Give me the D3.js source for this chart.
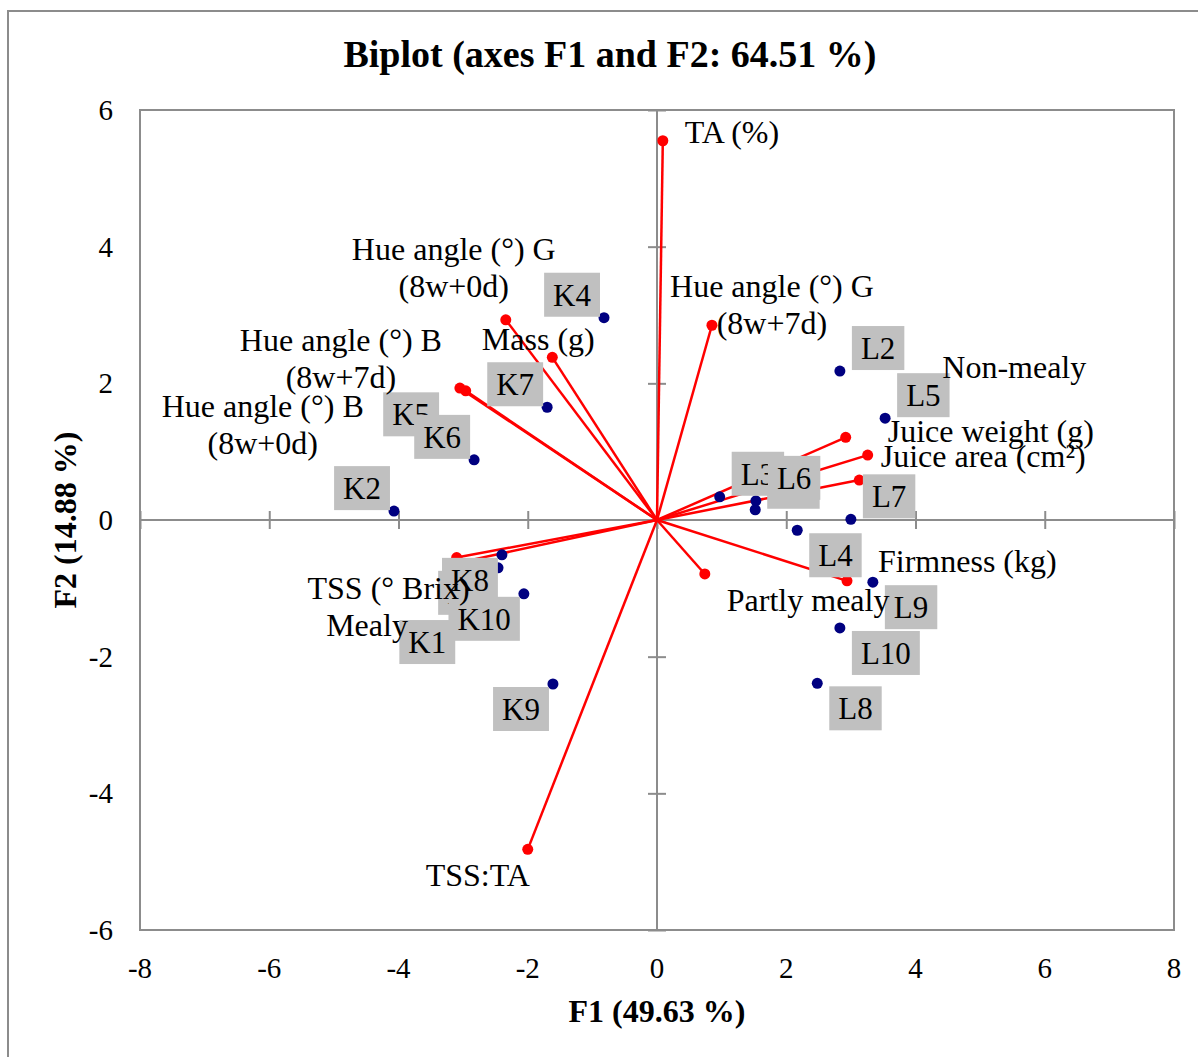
<!DOCTYPE html>
<html>
<head>
<meta charset="utf-8">
<script src="https://cdn.jsdelivr.net/npm/d3@7"></script>
<style>
  body { margin: 0; background: #fff; }
  text { font-family: "Liberation Serif", "Times New Roman", serif; }
</style>
</head>
<body>
<div id="viz"></div>
<script>
// observations (F1, F2)
var obsNames = ["K1","K2","K3","K4","K5","K6","K7","K8","K9","K10",
                "L1","L2","L3","L4","L5","L6","L7","L8","L9","L10"];
var obsF1 = [-3.06,-4.07,-2.46,-0.82,-3.31,-2.83,-1.70,-2.40,-1.61,-2.06,
             1.52, 2.83, 0.97, 2.17, 3.53, 1.53, 3.00, 2.48, 3.34, 2.83];
var obsF2 = [-1.42, 0.13,-0.70, 2.96, 1.21, 0.88, 1.65,-0.51,-2.40,-1.08,
             0.15, 2.18, 0.34,-0.15, 1.49, 0.28, 0.01,-2.39,-0.91,-1.58];

// variables (loadings, scaled)
var varNames = ["TA (%)", "Hue angle (°) G|(8w+0d)", "Hue angle (°) G|(8w+7d)", "Mass (g)",
                "Hue angle (°) B|(8w+7d)", "Hue angle (°) B|(8w+0d)", "Juice weight (g)",
                "Juice area (cm²)", "Non-mealy", "Firmness (kg)", "Partly mealy",
                "TSS (° Brix)", "Mealy", "TSS:TA"];
var varF1 = [0.09,-2.34, 0.85,-1.62,-3.05,-2.96, 2.92, 3.26, 3.13, 2.94, 0.74,-3.10,-3.05,-2.00];
var varF2 = [5.55, 2.93, 2.85, 2.38, 1.93, 1.89, 1.21, 0.95, 0.585,-0.89,-0.79,-0.55,-0.62,-4.82];

var xTicks = [-8,-6,-4,-2,0,2,4,6,8];
var yTicks = [-6,-4,-2,0,2,4,6];

// label placement (pixels, relative to the point)
var obsLabelPos = {K1:"ll",K2:"ul",K3:"ll",K4:"ul",K5:"ul",K6:"ul",K7:"ul",K8:"ll",K9:"ll",K10:"ll",
                   L1:"ur",L2:"ur",L3:"ur",L4:"lr",L5:"ur",L6:"ur",L7:"ur",L8:"lr",L9:"lr",L10:"lr"};
var varLabelPos = [
  {dx:22, dy:2, a:"start"}, {dx:-52, dy:-60, a:"middle"}, {dx:60, dy:-28, a:"middle"},
  {dx:-14, dy:-7, a:"middle"}, {dx:-119, dy:-37, a:"middle"}, {dx:-203, dy:26, a:"middle"},
  {dx:42, dy:5, a:"start"}, {dx:13, dy:12, a:"start"}, {dx:83, dy:-102, a:"start"},
  {dx:31, dy:-9, a:"start"}, {dx:22, dy:37, a:"start"}, {dx:13, dy:41, a:"end"},
  {dx:-52, dy:74, a:"end"}, {dx:-50, dy:37, a:"middle"}
];

var width = 1198, height = 1057;
var pLeft = 140, pRight = 1174, pTop = 110, pBottom = 930;

var svg = d3.select("#viz").append("svg")
  .attr("width", width)
  .attr("height", height);

// outer frame
svg.append("rect")
  .attr("x", 8).attr("y", 11)
  .attr("width", 1300).attr("height", 1200)
  .attr("fill", "none").attr("stroke", "#8c8c8c").attr("stroke-width", 2);

var x = d3.scaleLinear().domain([-8, 8]).range([pLeft, pRight]);
var y = d3.scaleLinear().domain([-6, 6]).range([pBottom, pTop]);

// plot box
svg.append("rect")
  .attr("x", pLeft).attr("y", pTop)
  .attr("width", pRight - pLeft).attr("height", pBottom - pTop)
  .attr("fill", "none").attr("stroke", "#8c8c8c").attr("stroke-width", 2);

// axes through origin
var xAxis = d3.axisBottom(x).tickValues(xTicks).tickSize(18).tickFormat("");
var yAxis = d3.axisLeft(y).tickValues(yTicks).tickSize(18).tickFormat("");
svg.append("g").attr("class", "ax").attr("transform", "translate(0," + (y(0) - 9) + ")").call(xAxis);
svg.append("g").attr("class", "ax").attr("transform", "translate(" + (x(0) + 9) + ",0)").call(yAxis);
svg.selectAll(".ax .domain").remove();
svg.selectAll(".ax line").attr("stroke", "#8c8c8c").attr("stroke-width", 2);
svg.append("line")
  .attr("x1", pLeft).attr("x2", pRight).attr("y1", y(0)).attr("y2", y(0))
  .attr("stroke", "#8c8c8c").attr("stroke-width", 2);
svg.append("line")
  .attr("x1", x(0)).attr("x2", x(0)).attr("y1", pTop).attr("y2", pBottom)
  .attr("stroke", "#8c8c8c").attr("stroke-width", 2);

// tick labels
svg.selectAll(".xt").data(xTicks).enter().append("text")
  .attr("x", function(d) { return x(d); })
  .attr("y", 978)
  .attr("text-anchor", "middle")
  .attr("font-size", 29)
  .text(function(d) { return d; });
svg.selectAll(".yt").data(yTicks).enter().append("text")
  .attr("x", 113)
  .attr("y", function(d) { return y(d) + 10; })
  .attr("text-anchor", "end")
  .attr("font-size", 29)
  .text(function(d) { return d; });

// titles
svg.append("text")
  .attr("x", 610).attr("y", 67)
  .attr("text-anchor", "middle")
  .attr("font-size", 38).attr("font-weight", "bold")
  .text("Biplot (axes F1 and F2: 64.51 %)");
svg.append("text")
  .attr("x", x(0)).attr("y", 1022)
  .attr("text-anchor", "middle")
  .attr("font-size", 32).attr("font-weight", "bold")
  .text("F1 (49.63 %)");
svg.append("text")
  .attr("transform", "translate(76," + y(0) + ") rotate(-90)")
  .attr("text-anchor", "middle")
  .attr("font-size", 32).attr("font-weight", "bold")
  .text("F2 (14.88 %)");

var vars = varNames.map(function(n, i) {
  return {name: n, f1: varF1[i], f2: varF2[i], pos: varLabelPos[i]};
});
var obs = obsNames.map(function(n, i) {
  return {name: n, f1: obsF1[i], f2: obsF2[i], pos: obsLabelPos[n]};
});

// vectors
svg.selectAll(".vec").data(vars).enter().append("line")
  .attr("x1", x(0)).attr("y1", y(0))
  .attr("x2", function(d) { return x(d.f1); })
  .attr("y2", function(d) { return y(d.f2); })
  .attr("stroke", "#ff0000").attr("stroke-width", 2.5);
svg.selectAll(".vdot").data(vars).enter().append("circle")
  .attr("cx", function(d) { return x(d.f1); })
  .attr("cy", function(d) { return y(d.f2); })
  .attr("r", 5.5).attr("fill", "#ff0000");

// observation points
svg.selectAll(".odot").data(obs).enter().append("circle")
  .attr("cx", function(d) { return x(d.f1); })
  .attr("cy", function(d) { return y(d.f2); })
  .attr("r", 5.5).attr("fill", "#000080");

// observation labels with grey boxes
var boxH = 44;
obs.forEach(function(d) {
  var g = svg.append("g");
  var t = g.append("text").attr("font-size", 31).text(d.name);
  var w = t.node().getComputedTextLength() + 18;
  var px = x(d.f1), py = y(d.f2);
  var bx = d.pos[1] == "l" ? px - w - 4 : px + 12;
  var by = d.pos[0] == "u" ? py - boxH - 1 : py + 3;
  g.insert("rect", "text")
    .attr("x", bx).attr("y", by)
    .attr("width", w).attr("height", boxH)
    .attr("fill", "#c0c0c0");
  t.attr("x", bx + w / 2).attr("y", by + 33).attr("text-anchor", "middle");
});

// variable labels (on top of the boxes)
vars.forEach(function(d) {
  var lines = d.name.split("|");
  var t = svg.append("text")
    .attr("font-size", 32)
    .attr("text-anchor", d.pos.a);
  lines.forEach(function(l, k) {
    t.append("tspan")
      .attr("x", x(d.f1) + d.pos.dx)
      .attr("y", y(d.f2) + d.pos.dy + k * 37)
      .text(l);
  });
});
</script>
</body>
</html>
